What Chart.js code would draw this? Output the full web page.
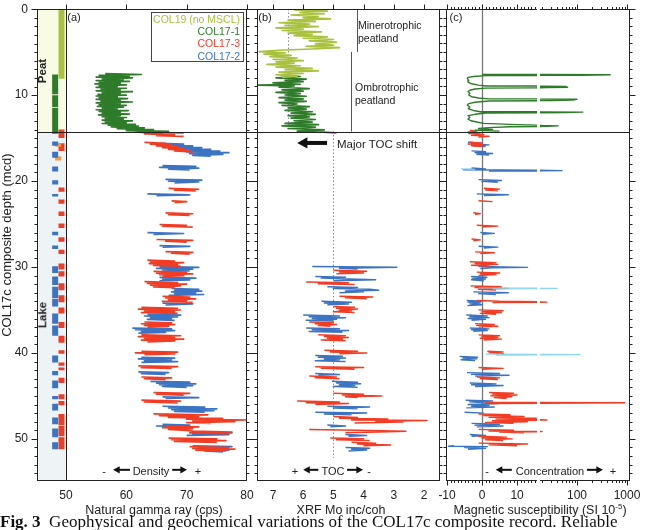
<!DOCTYPE html>
<html>
<head>
<meta charset="utf-8">
<title>COL17c composite record</title>
<script src="https://cdn.jsdelivr.net/npm/chart.js@4.4.1/dist/chart.umd.min.js"></script>
<style>
  html, body { margin: 0; padding: 0; background: #fff; }
  body { width: 645px; height: 530px; position: relative; overflow: hidden;
         font-family: "Liberation Sans", Arial, Helvetica, sans-serif; color: #222; }
  canvas { position: absolute; top: 0; }
  .t { position: absolute; white-space: nowrap; line-height: 1; transform: translate(-50%, -50%); }
  .l { position: absolute; white-space: nowrap; }
  .rot { position: absolute; white-space: nowrap; font-weight: bold; font-size: 11.5px; line-height: 1;
         transform: translate(-50%, -50%) rotate(-90deg); }
  #legend { position: absolute; left: 151px; top: 12px; width: 93px; height: 50px; box-sizing: border-box;
            border: 1px solid #444; text-align: right; font-size: 10.5px; line-height: 12.2px; padding: 0 3px 0 0; }
  #caption { position: absolute; left: 0; top: 512px; font-family: "Liberation Serif", "Times New Roman", serif;
             font-size: 17px; line-height: 20px; white-space: nowrap; color: #111; }
</style>
</head>
<body>
<canvas id="cA" width="262" height="530" style="left:0px"></canvas>
<canvas id="cB" width="230" height="530" style="left:232px"></canvas>
<canvas id="cC1" width="140" height="530" style="left:420px"></canvas>
<canvas id="cC2" width="130" height="530" style="left:515px"></canvas>

<div class="t" style="left:74px; top:17px; font-size:11px;">(a)</div>
<div class="t" style="left:265px; top:17px; font-size:11px;">(b)</div>
<div class="t" style="left:456px; top:17px; font-size:11px;">(c)</div>

<div id="legend">
  <div style="color:#a9c23e">COL19 (no MSCL)</div>
  <div style="color:#2e7b29">COL17-1</div>
  <div style="color:#f23d24">COL17-3</div>
  <div style="color:#3c74c4">COL17-2</div>
</div>

<div class="rot" style="left:43px; top:71px;">Peat</div>
<div class="rot" style="left:43px; top:315px;">Lake</div>

<div class="l" style="left:358px; top:19px; font-size:10.5px; line-height:12.5px;">Minerotrophic<br>peatland</div>
<div class="l" style="left:355px; top:81px; font-size:10.5px; line-height:12.5px;">Ombrotrophic<br>peatland</div>
<div class="l" style="left:337px; top:137px; font-size:11.5px; line-height:14px;">Major TOC shift</div>

<div class="t" style="left:104px; top:471px; font-size:11px;">-</div>
<div class="t" style="left:151px; top:471px; font-size:11px;">Density</div>
<div class="t" style="left:198px; top:471px; font-size:11px;">+</div>
<div class="t" style="left:295px; top:471px; font-size:11px;">+</div>
<div class="t" style="left:333px; top:471px; font-size:11px;">TOC</div>
<div class="t" style="left:369px; top:471px; font-size:11px;">-</div>
<div class="t" style="left:487px; top:471px; font-size:11px;">-</div>
<div class="t" style="left:550px; top:471px; font-size:11px;">Concentration</div>
<div class="t" style="left:613px; top:471px; font-size:11px;">+</div>

<div class="t" style="left:154px; top:510px; font-size:12.5px;">Natural gamma ray (cps)</div>
<div class="t" style="left:341px; top:510px; font-size:12.5px;">XRF Mo inc/coh</div>
<div class="t" style="left:540px; top:510px; font-size:12.5px;">Magnetic susceptibility (SI 10<sup style="font-size:8px">-5</sup>)</div>

<div id="caption"><b>Fig. 3</b>&nbsp;&nbsp;Geophysical and geochemical variations of the COL17c composite record. Reliable</div>

<script>
// ---- core sections (top, bottom depth in m) ----
const col19Cores = [[0, 8.1]];
const col17_1Cores = [[7.6, 9.9], [10.0, 11.4], [11.5, 14.5]];
const col17_3Cores = [[14.0, 15.0], [15.6, 16.5], [20.75, 21.25], [22.15, 22.65], [23.55, 24.05], [24.95, 25.45],
  [26.55, 27.05], [28.0, 28.5], [29.6, 30.3], [30.5, 31.1], [31.9, 32.7], [33.3, 34.1], [34.7, 35.4], [36.4, 37.1],
  [38.0, 38.8], [39.7, 40.1], [41.1, 41.5], [41.7, 42.0], [42.9, 43.5], [44.8, 45.4], [45.6, 46.1], [47.1, 48.4],
  [48.5, 49.7], [49.8, 51.2]];
const col17_2Cores = [[15.4, 15.9], [16.6, 17.3], [18.3, 18.9], [19.9, 20.4], [21.5, 21.8], [25.9, 26.3], [27.5, 27.9],
  [29.9, 30.7], [31.1, 32.1], [32.3, 33.6], [33.7, 34.6], [35.4, 36.6], [36.8, 38.0], [40.3, 41.1], [42.1, 42.6],
  [43.2, 44.1], [45.0, 45.4], [45.9, 46.7], [47.5, 48.3], [48.8, 49.8], [50.4, 51.2]];
const orangeCores = [[15.6, 16.0], [17.1, 17.6]];

// ---- (a) natural gamma ray (cps) ----
const gammaDepth171 = [7.5, 7.6, 7.7, 7.8, 7.9, 8.0, 8.1, 8.2, 8.3, 8.4,
  8.5, 8.6, 8.7, 8.8, 8.9, 9.0, 9.1, 9.2, 9.3, 9.4,
  9.5, 9.6, 9.7, 9.8, 9.9, 10.0, 10.1, 10.2, 10.3, 10.4,
  10.5, 10.6, 10.7, 10.8, 10.9, 11.0, 11.1, 11.2, 11.3, 11.4,
  11.5, 11.6, 11.7, 11.8, 11.9, 12.0, 12.1, 12.2, 12.3, 12.4,
  12.5, 12.6, 12.7, 12.8, 12.9, 13.0, 13.1, 13.2, 13.3, 13.4,
  13.5, 13.6, 13.7, 13.8, 13.9, 14.0, 14.1, 14.2, 14.3, 14.4];
const gamma171 = [56.5, 62.5, 55.5, 60.5, 55, 61, 56, 59.5, 55, 60.5,
  55.5, 59, 54.8, 60, 55.5, 58.5, 55, 60, 55.8, 59,
  55, 61, 56, 59, 55.3, 60, 55, 58.5, 55.5, 60.2,
  55, 59, 55.8, 61, 55, 59, 55.5, 60, 55.2, 59.5,
  56, 58.5, 55, 60.3, 55.5, 59, 56, 60.5, 55.4, 59,
  56, 60, 56.5, 59.5, 56, 61, 56.5, 60, 56, 61.5,
  57, 62, 57.5, 63, 58.5, 64.5, 60, 67, 62, 69.5];

const gammaDepth173 = [14.1, 14.2, 14.3, 14.4, 14.5, 14.6, 14.7, 14.8, 14.9,
  15.5, 15.6, 15.7, 15.8, 15.9, 16.0, 16.1, 16.2, 16.3, 16.4, 16.5, 16.6, 16.7,
  20.85, 20.95, 21.05, 21.15, 21.25, 22.3, 22.4, 22.5, 22.6,
  23.7, 23.8, 23.9, 24.0, 24.1, 25.05, 25.15, 25.25, 25.35, 25.45,
  26.8, 26.9, 27.0, 27.1, 27.2, 28.2, 28.3, 28.4, 28.5, 28.6,
  29.2, 29.3, 29.4, 29.5, 29.6, 29.7, 29.8, 29.9, 30.0,
  30.5, 30.6, 30.7, 30.8, 30.9, 31.0, 31.1, 31.2,
  31.7, 31.8, 31.9, 32.0, 32.1, 32.2, 32.3, 32.4, 32.5,
  33.4, 33.5, 33.6, 33.7, 33.8, 33.9, 34.0, 34.1, 34.2,
  34.7, 34.8, 34.9, 35.0, 35.1, 35.2, 35.3, 35.4, 35.5,
  36.4, 36.5, 36.6, 36.7, 36.8, 36.9, 37.0, 37.1,
  37.9, 38.0, 38.1, 38.2, 38.3, 38.4, 38.5, 38.6, 38.7, 38.8,
  39.8, 39.9, 40.0, 40.1, 40.2, 40.3, 41.5, 41.6, 41.7, 41.8, 41.9,
  42.8, 42.9, 43.0, 43.1, 43.2, 44.6, 44.7, 44.8, 44.9, 45.0,
  45.5, 45.6, 45.7, 45.8, 45.9,
  47.1, 47.2, 47.3, 47.4, 47.5, 47.6, 47.7, 47.8, 47.9, 48.0, 48.1, 48.2, 48.3,
  48.5, 48.6, 48.7, 48.8, 48.9, 49.0, 49.1, 49.2, 49.3, 49.4, 49.5,
  49.9, 50.0, 50.1, 50.2, 50.3, 50.4, 50.5,
  50.9, 51.0, 51.1, 51.2, 51.3, 51.4, 51.5];
const gamma173 = [60, 64, 61.5, 66, 63, 68, 65, 69.5, null,
  63, 66.5, 64, 67.5, 65, 68.5, 66, 69.5, 67, 70.5, 68, 71, null,
  67, 72, 68, 71.5, null, 67.5, 70, 68, null,
  66.5, 71, 67, 70.5, null, 65.5, 70, 66, 71, null,
  65, 71, 66.5, 70, null, 66.5, 71, 67.5, 70.5, null,
  63.5, 68, 64, 69.5, 63.8, 68.5, 64.5, 69, null,
  64.5, 70, 65, 71, 65.5, 69.5, 66, null,
  63, 68.5, 63.5, 70, 64, 69, 64.5, 68, null,
  66, 70.5, 66.5, 71.5, 67, 70, 66, 71, null,
  62.5, 68.5, 62, 69, 63, 68, 62.5, 68.5, null,
  63, 67.5, 62.5, 68, 63, 67, 63.5, null,
  62.5, 69, 62, 68, 63, 69.5, 62.5, 68, 63.5, null,
  62.5, 68.5, 61.5, 68, 63, null, 62, 68.5, 62.5, 67.5, null,
  62.5, 67.5, 63, 66.5, null, 64.5, 70.5, 65, 69.5, null,
  62.5, 69, 63, 68.5, null,
  64.5, 73.5, 65.5, 72, 67, 76, 70, 80, 71, 78, 70, 74, null,
  66.5, 72, 66, 71, 67, 70, 71, 77.5, 70.5, 77, null,
  67, 75, 67.5, 76.5, 68, 75, null,
  70.5, 77, 71, 78, 71.5, 76.5, null];

const gammaDepth172 = [15.6, 15.7, 15.8, 15.9, 16.0, 16.1, 16.2, 16.3, 16.4, 16.5, 16.6, 16.7, 16.8, 16.9, 17.0, 17.1, 17.2,
  18.2, 18.3, 18.4, 18.5, 18.6, 18.7, 18.8,
  19.8, 19.9, 20.0, 20.1, 20.2, 20.3,
  21.5, 21.6, 21.7, 21.8, 26.0, 26.1, 26.2, 26.3, 27.5, 27.6, 27.7, 27.8,
  29.95, 30.05, 30.15, 30.25, 30.35, 30.45, 30.55,
  31.2, 31.3, 31.4, 31.5, 31.6, 31.7,
  32.5, 32.6, 32.7, 32.8, 32.9, 33.0, 33.1, 33.2, 33.3, 33.4,
  34.2, 34.3, 34.4, 34.5,
  35.5, 35.6, 35.7, 35.8, 35.9, 36.0, 36.1, 36.2, 36.3,
  37.1, 37.2, 37.3, 37.4, 37.5, 37.6, 37.7, 37.8,
  40.5, 40.6, 40.7, 40.8, 40.9, 41.0, 41.1, 41.2,
  42.2, 42.3, 42.4, 42.5, 42.6,
  43.3, 43.4, 43.5, 43.6, 43.7, 43.8, 43.9, 44.0, 44.1,
  45.1, 45.2, 45.3, 45.4,
  46.2, 46.3, 46.4, 46.5, 46.6, 46.7, 46.8, 46.9, 47.0,
  48.3, 48.4, 48.5, 48.6, 48.7,
  49.2, 49.3, 49.4, 49.5, 49.6, 49.7,
  50.8, 50.9, 51.0, 51.1, 51.2, 51.3, 51.4, 51.5, 51.6];
const gamma172 = [65.5, 69.5, 66, 71, 67.5, 72.5, 68.5, 74, 69.5, 75.5, 70, 77, 70.5, 76, 71, 74, null,
  66, 71.5, 65.5, 72, 67, 70.5, null,
  66.5, 72.5, 67, 72, 68, null,
  63.5, 70.5, 65, null, 63.5, 69.5, 64.5, null, 65.5, 70.5, 66, null,
  65.5, 72, 65, 71, 66, 70.5, null,
  65.5, 71.5, 66, 70.5, 65.5, null,
  67.5, 72, 68, 72.5, 67.5, 71.5, 68, 72.8, 67, null,
  66, 71, 66.5, null,
  63.5, 69, 63, 68.5, 64, 67.5, 63.5, 68, null,
  61, 67.5, 61.5, 68, 62.5, 66.5, 62, null,
  62.5, 68, 62, 67.5, 63, 68.5, 62.5, null,
  62, 67, 62.5, 66.5, null,
  64, 70.5, 65, 71.5, 65.5, 71, 66, 70, null,
  66, 72, 66.5, null,
  66, 73, 67, 75, 67.5, 74.5, 68, 73, null,
  66, 70.5, 65, 71, null,
  72, 77.5, 71, 77, 70, null,
  71, 77.5, 72, 76.5, 72.5, 77, 73, 76, null];

// ---- (b) XRF Mo inc/coh ----
const moDepth19 = [0.1, 0.25, 0.4, 0.55, 0.7, 0.85, 1.0, 1.15, 1.3, 1.45,
  1.6, 1.75, 1.9, 2.05, 2.2, 2.35, 2.5, 2.65, 2.8, 2.95,
  3.1, 3.25, 3.4, 3.55, 3.7, 3.85, 4.05, 4.2, 4.35, 4.5,
  4.65, 4.8, 4.95, 5.1, 5.25, 5.4, 5.55, 5.7, 5.85, 6.0,
  6.15, 6.3, 6.45, 6.6, 6.75, 6.9, 7.05, 7.2, 7.35, 7.5,
  7.65, 7.8, 7.95];
const mo19 = [6.3, 5.2, 6.1, 5.3, 6.4, 5.5, 6.0, 5.1, 6.5, 5.6,
  6.8, 5.8, 6.6, 5.5, 6.9, 6.0, 6.7, 5.4, 6.5, 5.7,
  6.3, 5.2, 6.0, 5.0, 5.8, 4.9, 5.6, 5.0, 5.9, 4.8,
  5.7, 6.8, 7.45, 6.6, 7.3, 6.4, 7.1, 6.2, 7.0, 6.0,
  6.9, 6.3, 7.2, 6.1, 6.9, 5.7, 6.6, 5.5, 6.8, 6.0,
  6.9, 6.2, 6.7];

const moDepth171 = [7.7, 7.85, 8.0, 8.15, 8.3, 8.45, 8.6, 8.75, 8.85, 8.95,
  9.1, 9.25, 9.4, 9.55, 9.7, 9.85, 10.0, 10.15, 10.3, 10.45,
  10.6, 10.75, 10.9, 11.05, 11.2, 11.35, 11.5, 11.65, 11.8, 11.95,
  12.1, 12.25, 12.4, 12.55, 12.7, 12.85, 13.0, 13.15, 13.3, 13.45,
  13.6, 13.75, 13.9, 14.05, 14.2, 14.3, 14.4];
const mo171 = [6.7, 6.1, 6.9, 5.9, 6.6, 6.0, 7.0, 6.1, 7.5, 6.3,
  6.8, 5.8, 6.7, 6.0, 6.9, 6.1, 6.6, 5.9, 6.8, 6.0,
  6.6, 5.9, 6.8, 6.2, 6.7, 5.8, 6.5, 5.9, 6.6, 5.7,
  6.4, 5.6, 6.5, 5.8, 6.4, 5.6, 6.3, 5.7, 6.6, 5.5,
  6.7, 5.6, 6.5, 5.3, 6.2, 5.5, 4.9];

const moDepth173 = [30.4, 30.5, 30.6, 30.7, 30.8, 30.9,
  31.75, 31.85, 31.95, 32.05, 32.15,
  33.4, 33.5, 33.6, 33.7, 33.8,
  34.6, 34.7, 34.8, 34.9, 35.0, 35.1, 35.2, 35.3, 35.4,
  36.4, 36.5, 36.6, 36.7, 36.8, 36.9, 37.0,
  37.9, 38.0, 38.1, 38.2, 38.3, 38.4, 38.5, 38.6, 38.7,
  39.7, 39.8, 39.9, 40.0, 40.1, 40.2,
  41.6, 41.7, 41.8, 41.9, 42.0,
  42.7, 42.8, 42.9, 43.0, 43.1,
  44.7, 44.8, 44.9, 45.0, 45.1, 45.2, 45.3,
  45.6, 45.7, 45.8, 45.9, 46.0, 46.1,
  47.4, 47.5, 47.6, 47.7, 47.8, 47.85, 47.95, 48.05, 48.15, 48.25,
  48.9, 49.0, 49.1, 49.2, 49.3, 49.4,
  49.9, 50.0, 50.1, 50.2, 50.3,
  50.4, 50.5, 50.6, 50.7, 50.8, 50.9];
const mo173 = [5.0, 3.9, 4.8, 4.0, 4.9, null,
  5.9, 4.5, 5.5, 4.3, null,
  4.8, 3.7, 4.6, 3.9, null,
  5.0, 4.3, 4.9, 4.2, 4.8, 4.4, 5.0, 4.3, null,
  5.8, 5.0, 5.6, 4.9, 5.5, 5.1, null,
  5.5, 4.6, 5.3, 4.5, 5.2, 4.7, 5.4, 4.6, null,
  5.3, 4.2, 5.1, 3.9, 4.8, null,
  5.6, 4.0, 5.4, 4.3, null,
  5.8, 4.9, 5.6, 4.8, null,
  5.0, 4.0, 4.7, 3.4, 4.6, 4.2, null,
  6.2, 4.8, 5.9, 4.5, 5.6, null,
  5.0, 4.2, 4.8, 3.2, 4.4, 1.9, 3.6, 2.7, 4.3, null,
  5.8, 4.2, 2.6, 3.5, 4.6, null,
  5.1, 4.0, 4.9, 3.8, null,
  4.4, 3.6, 4.2, 3.1, 4.0, null];

const moDepth172 = [29.95, 30.05, 30.15, 30.25, 30.35,
  31.1, 31.2, 31.3, 31.4, 31.5, 31.6, 31.7,
  32.3, 32.4, 32.5, 32.6, 32.7, 32.8, 32.9, 33.0, 33.1,
  34.0, 34.1, 34.2, 34.3, 34.4, 34.5,
  35.6, 35.7, 35.8, 35.9, 36.0, 36.1, 36.2, 36.3, 36.4,
  37.1, 37.2, 37.3, 37.4, 37.5, 37.6, 37.7,
  40.3, 40.4, 40.5, 40.6, 40.7, 40.8, 40.9, 41.0, 41.1,
  42.4, 42.5, 42.6, 42.7,
  43.3, 43.4, 43.5, 43.6, 43.7, 43.8, 43.9, 44.0, 44.1,
  46.2, 46.3, 46.4, 46.5, 46.6, 46.9, 47.0, 47.1, 47.2, 47.3,
  48.4, 48.5, 48.6, 48.7, 49.5, 49.6, 49.7, 49.8,
  51.0, 51.1, 51.2, 51.3, 51.4, 51.5];
const mo172 = [5.7, 2.9, 4.8, 4.2, null,
  5.6, 4.6, 5.4, 4.5, 3.6, 5.0, null,
  5.2, 4.2, 5.0, 3.8, 3.5, 4.6, 4.0, 4.8, null,
  5.4, 4.4, 5.3, 4.5, 5.2, null,
  6.0, 4.8, 5.8, 4.6, 5.7, 4.9, 5.9, 5.0, null,
  5.9, 4.8, 5.7, 4.5, 5.8, 4.7, null,
  5.6, 4.7, 5.5, 4.6, 5.3, 4.8, 5.6, 4.6, null,
  5.6, 4.8, 5.5, null,
  5.05, 4.2, 4.9, 4.1, 4.8, 4.3, 5.0, 4.2, null,
  5.2, 3.8, 5.0, 4.2, null, 5.6, 3.9, 5.3, 4.4, null,
  5.2, 4.6, 5.1, null, 4.6, 3.9, 4.5, null,
  4.6, 3.8, 4.4, 3.9, 4.5, null];

// ---- (c) magnetic susceptibility (SI 1e-5) ----
const msDepth171 = [7.6, 7.65, 7.7, 7.75, 7.85, 7.95, 8.1, 8.3, 8.5, 8.7,
  8.85, 8.95, 9.0, 9.05, 9.1, 9.15, 9.2, 9.3, 9.45, 9.6,
  9.8, 10.0, 10.2, 10.35, 10.45, 10.5, 10.55, 10.6, 10.65, 10.7,
  10.85, 11.0, 11.2, 11.4, 11.6, 11.8, 11.95, 12.0, 12.05, 12.1,
  12.25, 12.4, 12.6, 12.8, 13.0, 13.15, 13.3, 13.45, 13.55, 13.6,
  13.65, 13.7, 13.8, 13.9, 14.0, 14.1, 14.2, 14.3];
const ms171 = [0, 460, 120, 1.0, -2.5, -4.0, -4.2, -3.8, -4.0, -3.0,
  -1.0, 1.0, 60, 40, 65, 25, 1.0, -2.0, -3.5, -4.0,
  -3.5, -3.8, -3.0, -1.0, 2.0, 100, 45, 90, 30, 2.0,
  -2.0, -3.8, -4.2, -3.5, -3.9, -2.5, -0.5, 130, 60, 1.0,
  -2.0, -4.0, -3.5, -4.0, -3.2, -1.5, 0.5, 10, 20, 42,
  25, 8, 2, -1, 3, -2, 5, null];

const msDepth173 = [14.1, 14.2, 14.3, 14.4, 14.5, 14.6, 14.7, 14.8, 14.9, 15.0,
  15.5, 15.6, 15.7, 15.8, 15.9, 16.0, 16.1,
  20.85, 20.95, 21.05, 21.15, 21.25, 22.3, 22.4, 22.5,
  23.7, 23.8, 23.9, 24.0, 25.15, 25.25, 25.35, 25.45,
  26.75, 26.85, 26.95, 27.05, 28.25, 28.35, 28.45, 28.55,
  29.4, 29.5, 29.6, 29.7, 29.8, 29.9, 30.0,
  30.6, 30.7, 30.8, 30.9, 31.0, 31.1,
  32.2, 32.3, 32.4, 32.5, 32.6, 32.7, 32.8,
  33.9, 34.0, 34.1, 34.15, 34.2,
  35.0, 35.1, 35.2, 35.3, 35.4, 35.5, 35.6,
  36.6, 36.7, 36.8, 36.9, 37.0, 37.1,
  37.9, 38.0, 38.1, 38.2, 38.3, 38.4, 38.5, 38.6,
  39.8, 39.9, 40.0, 40.1, 40.2, 41.7, 41.8, 41.9, 42.0,
  42.8, 42.9, 43.0, 43.1, 43.2,
  44.6, 44.7, 44.8, 44.9, 45.0, 45.1, 45.2, 45.3, 45.4,
  45.75, 45.8, 45.85, 45.9, 45.95,
  47.1, 47.2, 47.3, 47.4, 47.5, 47.6, 47.7, 47.8, 47.85, 47.9, 48.0, 48.1, 48.2, 48.3,
  48.9, 49.0, 49.1, 49.15, 49.2, 49.3, 49.4,
  49.7, 49.8, 49.9, 50.0, 50.1, 50.2, 50.3,
  50.5, 50.6, 50.7, 50.8, 50.9];
const ms173 = [-3.5, -1.5, -4.0, -0.5, -3.8, 0.5, -3.0, 2.0, -1.0, null,
  -3.5, 0.0, -4.0, 0.5, -3.0, 0.0, null,
  0.5, 5.0, 1.0, 4.5, null, -1.0, 3.0, null,
  -2.5, -0.5, -2.0, null, -1.5, 4.5, 0.0, null,
  -3.0, -0.5, -2.5, null, -2.0, 3.5, -0.5, null,
  -3.5, 4.0, -2.0, 4.5, -3.0, 2.0, null,
  -1.5, 5.0, -0.5, 4.0, -1.0, null,
  -3.3, 5.5, -2.0, 7.5, -1.0, 4.0, null,
  -1.5, 5.0, 25, 3.0, null,
  -1.0, 6.0, 0.0, 5.5, -0.5, 4.0, null,
  -2.0, 3.5, -1.5, 4.5, -1.0, null,
  -1.0, 5.0, 0.0, 4.5, -0.5, 5.5, 0.5, null,
  1.5, 6.0, 2.0, 6.3, null, -1.0, 6.0, 0.0, null,
  -1.5, 5.0, -0.5, 4.5, null,
  2.0, 9.0, 3.0, 10, 2.5, 8.5, 3.5, 7.0, null,
  1.0, 900, 20, 2.0, null,
  -1.0, 8.0, 0.5, 12, 2.0, 15.5, 4.0, 25, 10, 3.0, 13, 1.0, 9.0, null,
  -1.0, 9.0, 2.0, 20, 5.0, 12, null,
  -1.2, 7.0, 0.0, 8.6, 1.0, 6.0, null,
  -1.0, 13, 2.0, 10, null];

const msDepth172 = [15.5, 15.6, 15.7, 15.8, 15.9, 16.0, 16.1,
  16.5, 16.6, 16.7, 16.8, 16.9, 17.0, 17.1,
  18.5, 18.6, 18.7, 18.75, 18.8, 18.85, 18.9,
  19.85, 19.95, 20.05, 20.15, 20.25, 21.5, 21.6, 21.7, 21.8,
  26.0, 26.1, 26.2, 26.3, 27.6, 27.7, 27.8, 27.9,
  29.95, 30.05, 30.1, 30.2, 30.3,
  31.1, 31.2, 31.3, 31.4, 31.5, 31.6, 31.7,
  32.9, 33.0, 33.1, 33.2, 33.3,
  33.9, 34.0, 34.1, 34.2, 34.3, 34.4, 34.5, 34.6,
  35.6, 35.7, 35.8, 35.9, 36.0, 36.1, 36.2, 36.3,
  37.1, 37.2, 37.3, 37.4, 37.5, 37.6,
  40.4, 40.5, 40.6, 40.7, 40.8, 40.9, 41.0,
  42.3, 42.4, 42.5, 42.6, 42.7, 42.8,
  43.5, 43.6, 43.7, 43.8, 43.9, 44.0,
  45.5, 45.6, 45.7, 45.9, 46.0, 46.1, 46.2, 46.3, 46.4, 46.5,
  46.9, 47.0, 47.1, 48.2, 48.3, 48.4, 48.5, 48.6, 48.7,
  49.5, 49.6, 49.7, 49.8, 50.8, 50.85, 50.9, 51.0, 51.1, 51.2, 51.3];
const ms172 = [-4.0, 0.0, -3.0, 2.0, -2.5, 1.0, null,
  -3.0, 1.0, -2.0, 3.0, -1.5, 2.0, null,
  -3.0, 1.0, -5.3, 15.5, 50, 2.0, null,
  -1.0, 5.5, 0.0, 4.5, null, -1.5, 7.5, 0.5, null,
  -0.5, 3.5, 0.0, null, -1.0, 4.5, 0.5, null,
  -1.0, 13, 3.0, -0.5, null,
  -3.2, 1.4, -2.8, 1.0, -3.0, 0.5, null,
  -2.5, 7.5, -1.0, 4.0, null,
  -4.4, 0.0, -4.0, -0.5, -3.5, 0.0, -4.2, null,
  -4.5, 1.5, -3.5, 2.0, -4.0, 1.0, -3.0, null,
  -3.5, 2.0, -3.0, 1.5, -2.5, null,
  -6.4, -1.3, -5.5, -1.5, -6.0, -2.0, null,
  -4.3, 5.0, -3.0, 7.7, -2.0, null,
  -3.5, 4.0, -3.0, 6.0, -2.0, null,
  -4.7, 3.0, -3.5, 4.6, -4.0, 2.0, -3.0, 3.5, -4.5, null,
  -5.0, 0.5, null, -3.0, 5.0, -2.0, 6.0, -1.5, null,
  -3.5, 1.0, -3.0, null, -8.0, -9.6, 1.5, -5.0, 1.0, -4.0, null];

const msDepthCyan = [18.6, 18.65, 18.7, 32.45, 32.5, 32.55, 32.6, 40.15, 40.2, 40.25, 40.3];
const msCyan = [-6.0, -2.0, null, -1.0, 40, 3.0, null, 1.0, 115, 4.0, null];

// ---- styling ----
Chart.defaults.font.family = '"Liberation Sans", Arial, Helvetica, sans-serif';
Chart.defaults.color = '#222';

const C19 = '#a9c23e', C171 = '#2e7b29', C173 = '#f23d24', C172 = '#3c74c4';
const CORANGE = '#f39a48', CCYAN = '#8fd6ec';
const DEPTH_MAX = 54.9, BOUNDARY = 14.25;

function line(depths, values, color, width, map) {
  return {
    data: depths.map((d, i) => ({ x: values[i] === null ? null : (map ? map(values[i]) : values[i]), y: d })),
    borderColor: color, borderWidth: width, borderJoinStyle: 'round',
    pointRadius: 0, showLine: true, spanGaps: false, clip: 0
  };
}

function coreBars(list, xv, color) {
  const data = [];
  list.forEach(c => { data.push({ x: xv, y: c[0] }, { x: xv, y: c[1] }, { x: null, y: c[1] }); });
  return { data, borderColor: color, borderWidth: 6, borderCapStyle: 'butt',
           pointRadius: 0, showLine: true, spanGaps: false, clip: 0 };
}

// frame, outward ticks, guide lines and arrows for one panel
function decor(o) {
  return {
    id: 'decor',
    beforeDatasetsDraw(chart) {
      const { ctx, chartArea: a, scales: { x, y } } = chart;
      ctx.save();
      if (o.strip) {
        const xr = x.getPixelForValue(50), yb = y.getPixelForValue(BOUNDARY);
        ctx.fillStyle = '#f9fbe5';
        ctx.fillRect(a.left, a.top, xr - a.left, yb - a.top);
        ctx.fillStyle = '#eef3f6';
        ctx.fillRect(a.left, yb, xr - a.left, a.bottom - yb);
      }
      (o.guides || []).forEach(g => {
        const px = Math.round(x.getPixelForValue(g.x)) + 0.5;
        ctx.strokeStyle = g.color;
        ctx.lineWidth = g.width || 1;
        ctx.setLineDash(g.dash || []);
        ctx.beginPath();
        ctx.moveTo(px, y.getPixelForValue(g.from));
        ctx.lineTo(px, y.getPixelForValue(g.to));
        ctx.stroke();
      });
      ctx.restore();
    },
    afterDatasetsDraw(chart) {
      const { ctx, chartArea: a, scales: { x, y } } = chart;
      ctx.save();
      ctx.strokeStyle = '#222';
      ctx.lineWidth = 1;
      const L = Math.round(a.left) + 0.5, R = Math.round(a.right) - 0.5;
      const T = Math.round(a.top) + 0.5, B = Math.round(a.bottom) - 0.5;

      // peat / lake boundary
      const yb = Math.round(y.getPixelForValue(BOUNDARY)) + 0.5;
      ctx.beginPath();
      ctx.moveTo(a.left, yb);
      ctx.lineTo(a.right + (o.extend || 0), yb);
      ctx.stroke();

      ctx.beginPath();
      ctx.moveTo(a.left, T); ctx.lineTo(a.right, T);
      ctx.moveTo(a.left, B); ctx.lineTo(a.right, B);
      if (o.left) { ctx.moveTo(L, a.top); ctx.lineTo(L, a.bottom); }
      if (o.right) { ctx.moveTo(R, a.top); ctx.lineTo(R, a.bottom); }
      if (o.strip) {
        const xs = Math.round(x.getPixelForValue(50)) + 0.5;
        ctx.moveTo(xs, a.top); ctx.lineTo(xs, a.bottom);
      }
      // depth ticks, every metre, longer every ten
      for (let d = 0; d <= 54; d++) {
        const py = Math.round(y.getPixelForValue(d)) + 0.5;
        const len = d % 10 === 0 ? 6 : 3;
        if (o.left) { ctx.moveTo(L, py); ctx.lineTo(L - len, py); }
        if (o.right) { ctx.moveTo(R, py); ctx.lineTo(R + len, py); }
      }
      // value ticks on top (and bottom)
      const xt = (vals, len) => vals.forEach(v => {
        const px = Math.round(x.getPixelForValue(v)) + 0.5;
        ctx.moveTo(px, T); ctx.lineTo(px, T - len);
        if (o.bottomTicks) { ctx.moveTo(px, B); ctx.lineTo(px, B + len); }
      });
      xt(o.xMajor || [], 5);
      xt(o.xMinor || [], 2.5);
      ctx.stroke();

      (o.arrows || []).forEach(ar => {
        const py = y.getPixelForValue(ar.d);
        const x1 = x.getPixelForValue(ar.from), x2 = x.getPixelForValue(ar.to);
        const dir = Math.sign(x2 - x1), hl = ar.w * 1.8 + 3, hw = ar.w + 1.6;
        ctx.strokeStyle = '#111';
        ctx.fillStyle = '#111';
        ctx.lineWidth = ar.w;
        ctx.beginPath();
        ctx.moveTo(x1, py); ctx.lineTo(x2 - dir * hl * 0.7, py);
        ctx.stroke();
        ctx.beginPath();
        ctx.moveTo(x2, py);
        ctx.lineTo(x2 - dir * hl, py - hw);
        ctx.lineTo(x2 - dir * hl, py + hw);
        ctx.closePath();
        ctx.fill();
      });
      ctx.restore();
    }
  };
}

function depthAxis(show) {
  const ax = { type: 'linear', reverse: true, min: 0, max: DEPTH_MAX, display: show };
  if (show) {
    Object.assign(ax, {
      grid: { display: false, drawTicks: true, tickLength: 7 },
      border: { display: false },
      ticks: { font: { size: 12 }, padding: 2, autoSkip: false },
      afterBuildTicks: s => { s.ticks = [0, 10, 20, 30, 40, 50].map(v => ({ value: v })); },
      title: { display: true, text: 'COL17c composite depth (mcd)', font: { size: 13 }, padding: 0 },
      afterFit: s => { s.width = 37; }
    });
  }
  return ax;
}

function valueAxis(extra, tickVals) {
  return Object.assign({
    grid: { display: false, drawTicks: true, tickLength: 4 },
    border: { display: false },
    ticks: { font: { size: 12 }, padding: 3, autoSkip: false, maxRotation: 0, callback: v => String(v) },
    afterBuildTicks: s => { s.ticks = tickVals.map(v => ({ value: v })); },
    afterFit: s => { s.height = 49; }
  }, extra);
}

function options(xAxis, showDepth, padL, padR) {
  return {
    responsive: false, animation: false, events: [],
    layout: { padding: { left: padL, right: padR, top: 9, bottom: 0 } },
    plugins: { legend: { display: false }, tooltip: { enabled: false } },
    scales: { x: xAxis, y: depthAxis(showDepth) }
  };
}

// (a) natural gamma ray
new Chart(document.getElementById('cA'), {
  type: 'scatter',
  data: { datasets: [
    coreBars(col19Cores, 49.25, C19),
    coreBars(col17_1Cores, 48.2, C171),
    coreBars(col17_2Cores, 48.2, C172),
    coreBars(orangeCores, 48.7, CORANGE),
    coreBars(col17_3Cores, 49.25, C173),
    line(gammaDepth171, gamma171, C171, 1.7),
    line(gammaDepth173, gamma173, C173, 1.7),
    line(gammaDepth172, gamma172, C172, 1.7)
  ] },
  options: options(valueAxis({ type: 'linear', min: 45.19, max: 80 }, [50, 60, 70, 80]), true, 0, 15),
  plugins: [decor({ strip: true, left: true, right: true, extend: 10, xMajor: [50, 60, 70, 80],
    arrows: [{ d: 53.6, from: 60.6, to: 57.8, w: 2 }, { d: 53.6, from: 67.6, to: 70.05, w: 2 }] })]
});

// (b) XRF Mo inc/coh (reversed)
new Chart(document.getElementById('cB'), {
  type: 'scatter',
  data: { datasets: [
    line(moDepth19, mo19, C19, 1.7),
    line(moDepth171, mo171, C171, 1.7),
    line(moDepth173, mo173, C173, 1.5),
    line(moDepth172, mo172, C172, 1.5)
  ] },
  options: options(valueAxis({ type: 'linear', min: 1.47, max: 7.53, reverse: true }, [2, 3, 4, 5, 6, 7]), false, 25, 22),
  plugins: [decor({ left: true, right: true, extend: 6, xMajor: [2, 3, 4, 5, 6, 7],
    guides: [
      { x: 6.5, from: 0, to: BOUNDARY, color: '#8a8a8a', dash: [1.5, 2] },
      { x: 5.0, from: BOUNDARY, to: 52.2, color: '#8a8a8a', dash: [1.5, 2] },
      { x: 4.22, from: 0, to: 5.0, color: '#555' },
      { x: 4.42, from: 5.0, to: BOUNDARY, color: '#555' }
    ],
    arrows: [
      { d: 15.58, from: 5.21, to: 6.2, w: 4 },
      { d: 53.6, from: 5.5, to: 6.0, w: 2 },
      { d: 53.6, from: 4.55, to: 4.02, w: 2 }
    ] })]
});

// (c) magnetic susceptibility, linear part
new Chart(document.getElementById('cC1'), {
  type: 'scatter',
  data: { datasets: [
    line(msDepth171, ms171, C171, 1.4),
    line(msDepthCyan, msCyan, CCYAN, 1.2),
    line(msDepth173, ms173, C173, 1.4),
    line(msDepth172, ms172, C172, 1.4)
  ] },
  options: options(valueAxis({ type: 'linear', min: -10.3, max: 15.7 }, [-10, 0, 10]), false, 26, 23),
  plugins: [decor({ left: true, right: false, extend: 3, bottomTicks: true,
    xMajor: [-10, 0, 10],
    xMinor: [-9, -8, -7, -6, -5, -4, -3, -2, -1, 1, 2, 3, 4, 5, 6, 7, 8, 9, 11, 12, 13, 14, 15],
    guides: [{ x: 0, from: 0, to: DEPTH_MAX, color: '#777', width: 1.3 }],
    arrows: [{ d: 53.6, from: 8.5, to: 3.9, w: 2 }] })]
});

// (c) magnetic susceptibility, logarithmic part
const logView = v => Math.max(v, 1);
new Chart(document.getElementById('cC2'), {
  type: 'scatter',
  data: { datasets: [
    line(msDepth171, ms171, C171, 1.4, logView),
    line(msDepthCyan, msCyan, CCYAN, 1.2, logView),
    line(msDepth173, ms173, C173, 1.4, logView),
    line(msDepth172, ms172, C172, 1.4, logView)
  ] },
  options: options(valueAxis({ type: 'logarithmic', min: 18.2, max: 1148 }, [100, 1000]), false, 25, 15),
  plugins: [decor({ left: false, right: true, bottomTicks: true,
    xMajor: [100, 1000],
    xMinor: [20, 30, 40, 50, 60, 70, 80, 90, 200, 300, 400, 500, 600, 700, 800, 900],
    arrows: [{ d: 53.6, from: 158, to: 330, w: 2 }] })]
});
</script>
</body>
</html>
